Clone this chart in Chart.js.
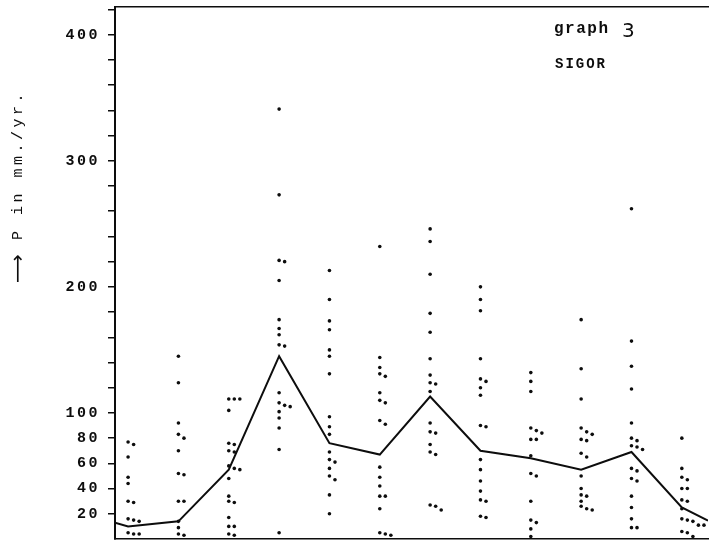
<!DOCTYPE html>
<html>
<head>
<meta charset="utf-8">
<script src="https://cdn.jsdelivr.net/npm/chart.js@4/dist/chart.umd.min.js"></script>
<style>
  html, body { margin:0; padding:0; background:#fff; }
  #wrap { width:712px; height:543px; position:relative; }
</style>
</head>
<body>
<div id="wrap"><canvas id="chart-sigor"></canvas></div>
<script>
// ─── DATA ────────────────────────────────────────────────────────────────────
const months = [0, 1, 2, 3, 4, 5, 6, 7, 8, 9, 10, 11];
const monthlyMean = [10, 14, 55, 145, 76, 67, 113, 70, 64, 55, 69, 25];
const edgeMean = [13, 14.5]; // where the mean line leaves the frame, left / right

// one dot per year, per month
const m01 = [77, 75, 65, 49, 44, 30, 29, 16, 15, 14, 5, 4, 4];
const m02 = [145, 124, 92, 83, 80, 70, 52, 51, 30, 30, 14, 9, 4, 3];
const m03 = [111, 111, 111, 102, 76, 75, 70, 69, 58, 56, 55, 48, 34, 30, 29, 17, 10, 10, 4, 3];
const m04 = [341, 273, 221, 220, 205, 174, 167, 162, 154, 153, 116, 108, 106, 105, 101, 96, 88, 71, 5];
const m05 = [213, 190, 173, 166, 150, 145, 131, 97, 89, 83, 69, 63, 61, 56, 50, 47, 35, 20];
const m06 = [232, 144, 136, 131, 129, 116, 110, 108, 94, 91, 57, 49, 42, 34, 34, 24, 5, 4, 3];
const m07 = [246, 236, 210, 179, 164, 143, 130, 124, 123, 117, 92, 85, 84, 75, 69, 67, 27, 26, 23];
const m08 = [200, 190, 181, 143, 127, 125, 120, 114, 90, 89, 63, 55, 46, 38, 31, 30, 18, 17];
const m09 = [132, 125, 117, 88, 86, 84, 79, 79, 66, 52, 50, 30, 15, 13, 8, 2];
const m10 = [174, 135, 111, 88, 85, 83, 79, 78, 68, 65, 50, 40, 35, 34, 30, 26, 24, 23];
const m11 = [262, 157, 137, 119, 92, 80, 78, 74, 73, 71, 56, 54, 48, 46, 34, 25, 16, 9, 9];
const m12 = [80, 56, 49, 47, 40, 40, 31, 30, 24, 16, 15, 14, 11, 11, 6, 5, 2];

const yLabelValues = [20, 40, 60, 80, 100, 200, 300, 400];
const yArrow = '\u27F6';
const yTitle = 'P in mm./yr.';
const graphTitle = 'graph';
const graphNumber = '3';
const stationName = 'SIGOR';

// ─── BUILD ───────────────────────────────────────────────────────────────────
const X_MIN = -0.26, X_MAX = 11.52;
const Y_MIN = 0, Y_MAX = 422;

const perMonth = [m01, m02, m03, m04, m05, m06, m07, m08, m09, m10, m11, m12];
const dots = [];
perMonth.forEach((vals, m) => {
  // typewriter put near-equal years next to each other
  let prev = null, off = 0;
  vals.forEach(v => {
    off = (prev !== null && Math.abs(prev - v) <= 3.5) ? off + 0.11 : 0;
    dots.push({ x: months[m] + off, y: v });
    prev = v;
  });
});

const meanLine = [
  { x: X_MIN, y: edgeMean[0] },
  ...months.map(m => ({ x: m, y: monthlyMean[m] })),
  { x: X_MAX, y: edgeMean[1] }
];

const INK = '#0d0d0d';
const MONO = '"Liberation Mono", "DejaVu Sans Mono", monospace';

// typewriter spacing + the loose texts
const typewriter = {
  id: 'typewriter',
  beforeDraw(chart) { chart.ctx.letterSpacing = '2.5px'; },
  afterDraw(chart) {
    const c = chart.ctx;
    // rotated axis title, reads bottom-up
    c.save();
    c.fillStyle = INK;
    c.translate(18, 0);
    c.rotate(-Math.PI / 2);
    c.textBaseline = 'middle';
    c.textAlign = 'left';
    c.letterSpacing = '0px';
    c.font = '20px "DejaVu Sans", sans-serif';
    c.fillText(yArrow, -283, 1);
    c.font = '15px ' + MONO;
    c.letterSpacing = '3.5px';
    c.fillText(yTitle, -240, 0);
    c.restore();

    c.save();
    c.fillStyle = INK;
    c.textAlign = 'left';
    c.textBaseline = 'alphabetic';
    c.font = 'bold 16px ' + MONO;
    c.letterSpacing = '1.5px';
    c.fillText(graphTitle, 554, 33);
    c.letterSpacing = '0px';
    c.font = '20px "DejaVu Sans", sans-serif';
    c.fillText(graphNumber, 622, 37);
    c.font = 'bold 14px ' + MONO;
    c.letterSpacing = '2px';
    c.fillText(stationName, 555, 68);
    c.restore();
  }
};

new Chart(document.getElementById('chart-sigor').getContext('2d'), {
  type: 'scatter',
  data: {
    datasets: [
      { type: 'line', label: 'mean', data: meanLine, borderColor: INK, borderWidth: 2, pointRadius: 0, tension: 0, fill: false },
      { label: 'years', data: dots, backgroundColor: INK, borderWidth: 0, pointRadius: 1.8 }
    ]
  },
  options: {
    responsive: true,
    maintainAspectRatio: false,
    animation: false,
    layout: { padding: { top: 7, left: 0, right: 0, bottom: 0 } },
    plugins: { legend: { display: false }, tooltip: { enabled: false } },
    scales: {
      x: {
        type: 'linear', position: 'bottom', min: X_MIN, max: X_MAX,
        ticks: { display: false }, grid: { display: false },
        border: { display: true, color: INK, width: 1.5 },
        afterFit: s => { s.height = 4; s.paddingLeft = s.paddingRight = 0; }
      },
      x2: {
        type: 'linear', position: 'top', min: X_MIN, max: X_MAX,
        ticks: { display: false }, grid: { display: false },
        border: { display: true, color: INK, width: 1.5 },
        afterFit: s => { s.height = 0; s.paddingLeft = s.paddingRight = 0; }
      },
      y: {
        min: Y_MIN, max: Y_MAX,
        afterBuildTicks: s => { s.ticks = s.ticks.filter(t => t.value > 0 && t.value % 20 === 0); },
        ticks: {
          stepSize: 20, includeBounds: false, autoSkip: false, padding: 8,
          color: INK, font: { family: MONO, size: 15, weight: 'bold' },
          callback: v => yLabelValues.includes(v) ? String(v) : ''
        },
        grid: { drawOnChartArea: false, drawTicks: true, tickLength: 7, color: INK, lineWidth: 1.5 },
        border: { color: INK, width: 2 },
        afterFit: s => { s.width = 115; s.paddingTop = 0; s.paddingBottom = 0; }
      }
    }
  },
  plugins: [typewriter]
});
</script>
</body>
</html>
